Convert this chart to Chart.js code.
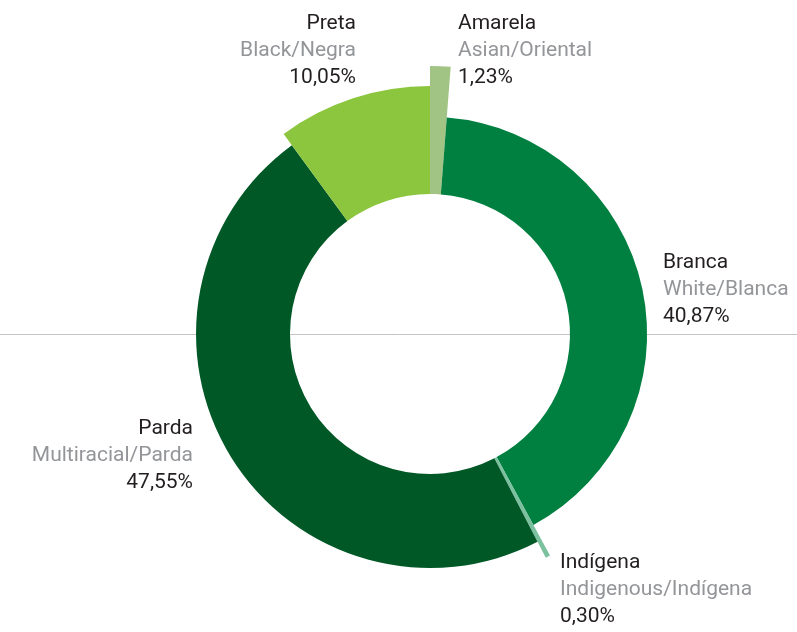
<!DOCTYPE html>
<html>
<head>
<meta charset="utf-8">
<script src="https://cdn.jsdelivr.net/npm/chart.js@4"></script>
<style>
  html, body { margin: 0; padding: 0; background: #fff; }
  #wrap { width: 797px; height: 632px; position: relative; }
</style>
</head>
<body>
<div id="wrap"><canvas id="chart" width="797" height="632"></canvas></div>
<script>
const labels = ['Amarela', 'Branca', 'Indígena', 'Parda', 'Preta'];
const subLabels = ['Asian/Oriental', 'White/Blanca', 'Indigenous/Indígena', 'Multiracial/Parda', 'Black/Negra'];
const values = [1.23, 40.87, 0.30, 47.55, 10.05];
const colors = ['#a1c484', '#008040', '#7cc19f', '#005826', '#8cc63f'];
// each slice sticks out a different amount
const radiusScale = [1.0, 0.81, 0.94, 0.873, 0.925];

// text blocks: [x, baseline of first line, align]
const labelPos = [
  [458, 29, 'left'],
  [663, 268, 'left'],
  [560, 568, 'left'],
  [193, 434, 'right'],
  [356, 29, 'right']
];

function fmt(v) {
  return v.toFixed(2).replace('.', ',') + '%';
}

const sliceRadius = {
  id: 'sliceRadius',
  afterDatasetUpdate(chart, args) {
    const meta = chart.getDatasetMeta(args.index);
    meta.data.forEach((arc, i) => {
      arc.outerRadius = meta.controller.outerRadius * radiusScale[i];
    });
  }
};

const midLine = {
  id: 'midLine',
  beforeDatasetsDraw(chart) {
    const c = chart.ctx;
    const arc = chart.getDatasetMeta(0).data[0];
    c.save();
    c.strokeStyle = '#c4c4c4';
    c.lineWidth = 1;
    c.beginPath();
    c.moveTo(0, Math.round(arc.y) + 0.5);
    c.lineTo(chart.width, Math.round(arc.y) + 0.5);
    c.stroke();
    c.restore();
  }
};

const sliceLabels = {
  id: 'sliceLabels',
  afterDraw(chart) {
    const c = chart.ctx;
    c.save();
    c.font = '21px Roboto';
    labelPos.forEach((p, i) => {
      c.textAlign = p[2];
      c.textBaseline = 'alphabetic';
      c.fillStyle = '#231f20';
      c.fillText(labels[i], p[0], p[1]);
      c.fillStyle = '#939598';
      c.fillText(subLabels[i], p[0], p[1] + 27);
      c.fillStyle = '#231f20';
      c.fillText(fmt(values[i]), p[0], p[1] + 54);
    });
    c.restore();
  }
};

new Chart(document.getElementById('chart'), {
  type: 'doughnut',
  data: {
    labels: labels,
    datasets: [{
      data: values,
      backgroundColor: colors,
      borderWidth: 0
    }]
  },
  options: {
    responsive: false,
    animation: false,
    events: [],
    cutout: 140,
    rotation: 0,
    layout: { padding: { left: 100, right: 37, top: 66, bottom: 30 } },
    plugins: {
      legend: { display: false },
      tooltip: { enabled: false }
    }
  },
  plugins: [midLine, sliceRadius, sliceLabels]
});
</script>
</body>
</html>
